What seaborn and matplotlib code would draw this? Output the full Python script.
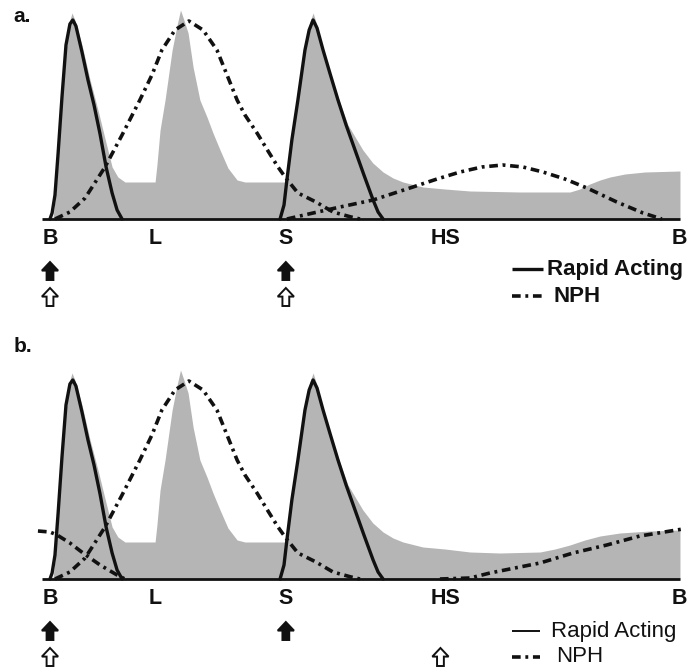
import matplotlib
matplotlib.use("Agg")
import matplotlib.pyplot as plt
from matplotlib.patches import FancyArrow
import seaborn as sns

sns.set_style("white")
plt.rcParams['font.family'] = ['Liberation Sans', 'DejaVu Sans']

# ---------------- data (schematic time units: B=0, L=4, S=9, HS=15, next B=24) -------------
time_labels = ["B", "L", "S", "HS", "B"]
time_pos = [0, 4, 9, 15.1, 24]

# physiological insulin profile (grey area), shared early part
gray_x = [0.11, 0.15, 0.23, 0.38, 0.57, 0.76, 0.84, 0.95, 1.22, 1.53, 1.83, 2.14, 2.37, 2.59, 2.86,
          4.01, 4.08, 4.20, 4.39, 4.66, 4.85, 4.98, 5.11, 5.27, 5.46, 5.72, 5.99, 6.22, 6.49, 6.79,
          7.14, 7.44, 8.97, 9.12, 9.46, 9.73, 9.92, 10.04, 10.15, 10.42, 10.99, 11.37, 11.94, 12.32,
          12.71, 13.09, 13.47, 14.23, 15.07]
gray_y = [0, 5, 14.5, 44.5, 79.5, 99.5, 103, 99.5, 87, 69.5, 54.5, 38, 26, 21, 18.5,
          18.5, 27, 44.5, 59.5, 84.5, 97, 104.5, 99.5, 93, 76, 59.5, 51, 43, 34.5, 25.5,
          19.5, 18.5, 18.5, 27, 59.5, 84.5, 98.5, 103, 98.5, 84.5, 61, 47, 34.5, 28,
          23.5, 20.5, 18.5, 16, 15]
gray_tail_a_x = [16.03, 17.93, 19.84, 20.22, 20.60, 20.99, 21.37, 21.94, 22.70, 24.04]
gray_tail_a_y = [14, 13.5, 13.5, 15, 17.5, 19.5, 21, 22.5, 23.5, 24]
gray_tail_b_x = [16.03, 17.17, 18.70, 19.27, 19.84, 20.41, 20.99, 21.75, 22.89, 24.04]
gray_tail_b_y = [13.5, 13, 13.5, 15, 17, 19.5, 21.5, 23, 24, 24.5]

# rapid acting insulin (breakfast and supper doses)
rapid1_x = [0.00, 0.08, 0.19, 0.31, 0.46, 0.61, 0.76, 0.87, 0.99, 1.22, 1.45, 1.68, 1.91, 2.14, 2.37, 2.56, 2.75]
rapid1_y = [0, 3, 12, 33, 61.5, 87, 97.5, 99.5, 96.5, 83.5, 69.5, 57, 42.5, 26, 13, 4.5, 0]
rapid2_x = [8.78, 8.93, 9.04, 9.23, 9.46, 9.73, 9.89, 10.04, 10.19, 10.42, 10.68, 10.99, 11.30,
            11.64, 11.98, 12.33, 12.52, 12.71]
rapid2_y = [0, 7, 19.5, 39.5, 59.5, 84.5, 94.5, 99.5, 95.5, 84.5, 73, 59.5, 47, 34.5, 22, 9.5, 3.5, 0]

# NPH morning dose
nph_am_x = [0.19, 0.76, 1.34, 2.10, 2.75, 3.43, 3.89, 4.27, 4.77, 5.30, 5.84, 6.37, 6.91, 7.14,
            7.44, 7.90, 8.32, 8.70, 9.00, 9.46, 10.15, 10.80, 11.49, 11.83]
nph_am_y = [0, 3.5, 10.5, 26, 42, 59.5, 72, 84.5, 94.5, 99, 94.5, 84.5, 67, 59.5,
            52, 43, 34, 26, 20.5, 13, 8.5, 3.5, 1, 0]
# NPH supper dose (panel a)
nph_pm_a_x = [9.04, 10.04, 11.07, 12.33, 13.85, 14.77, 15.65, 16.48, 17.28, 18.05, 18.81, 19.65,
              20.49, 21.63, 22.63, 23.35]
nph_pm_a_y = [0, 3, 6, 9.5, 16, 20, 23.5, 26, 27, 26, 23.5, 20, 15.5, 8.5, 3, 0]
# NPH previous bedtime dose tail (panel b)
nph_night_b_x = [-0.46, 0.00, 0.27, 0.76, 1.26, 1.91, 2.56, 2.86]
nph_night_b_y = [24, 23.5, 22, 18, 13, 7, 2, 0]
# NPH bedtime dose (panel b)
nph_hs_b_x = [14.88, 16.03, 16.79, 17.74, 18.70, 19.96, 21.25, 22.51, 24.15]
nph_hs_b_y = [0, 0.5, 3, 5.5, 8, 13, 17, 21.5, 25]

# dose arrows: (time, kind)
doses_a = [(0, "filled"), (9, "filled"), (0, "open"), (9, "open")]
doses_b = [(0, "filled"), (9, "filled"), (0, "open"), (14.9, "open")]

legend_labels = ["Rapid Acting", "NPH"]

# ---------------- drawing -------------
GRAY = "#b5b5b5"
INK = "#111111"
NPH_DASH = (0, (2.4, 1.3, 0.8, 1.3))
XMIN, XMAX = -1.908, 24.385

fig = plt.figure(figsize=(6.89, 6.69), dpi=100)
ax_a = fig.add_axes([0, 339 / 669, 1, 330 / 669])
ax_b = fig.add_axes([0, 0, 1, 339 / 669])
ax_a.set_ylim(-55.5, 109.5)
ax_b.set_ylim(-45, 124.5)


def curve(ax, x, y, dashed):
    sns.lineplot(x=x, y=y, ax=ax, color=INK, lw=2.6 if dashed else 2.4,
                 estimator=None, sort=False)
    ln = ax.lines[-1]
    ln.set_solid_joinstyle("round")
    if dashed:
        ln.set_linestyle(NPH_DASH)
        ln.set_dash_joinstyle("round")


def arrow(ax, x, kind):
    if kind == "filled":
        y0, fc = -30.5, INK
    else:
        y0, fc = -43.5, "white"
    ax.add_patch(FancyArrow(x, y0, 0, 9, width=0.26, head_width=0.62, head_length=4.3,
                            length_includes_head=True, fc=fc, ec=INK, lw=1.4, zorder=5))


def panel(ax, tail_x, tail_y, nph_curves, doses, letter, bold_legend, leg_y, leg_line_end, leg_tx):
    ax.set_xlim(XMIN, XMAX)
    ax.set_axis_off()
    gx = gray_x + tail_x
    gy = gray_y + tail_y
    ax.fill_between(gx, gy, 0, color=GRAY, lw=0, zorder=1)
    ax.plot([-0.31, 24.04], [0, 0], color=INK, lw=2.0, zorder=2, solid_capstyle="butt")
    curve(ax, rapid1_x, rapid1_y, False)
    curve(ax, rapid2_x, rapid2_y, False)
    for cx, cy in nph_curves:
        curve(ax, cx, cy, True)
    for lab, pos in zip(time_labels, time_pos):
        ax.text(pos, -9.5, lab, ha="center", va="center", fontsize=15.5, fontweight="bold", color=INK)
    for x, kind in doses:
        arrow(ax, x, kind)
    ax.text(XMIN + 0.5, ax.get_ylim()[1] - 8, letter, ha="left", va="center", fontsize=15,
            fontweight="bold", color=INK)
    # legend
    weight = "bold" if bold_legend else "normal"
    ax.plot([17.63, leg_line_end], [leg_y[0]] * 2, color=INK, lw=2.4 if bold_legend else 1.4,
            solid_capstyle="butt")
    ax.plot([17.63, leg_line_end], [leg_y[1]] * 2, color=INK, lw=2.6, linestyle=NPH_DASH)
    ax.text(leg_tx[0], leg_y[0], legend_labels[0], ha="left", va="center", fontsize=16,
            fontweight=weight, color=INK)
    ax.text(leg_tx[1], leg_y[1], legend_labels[1], ha="left", va="center", fontsize=16,
            fontweight=weight, color=INK)


panel(ax_a, gray_tail_a_x, gray_tail_a_y,
      [(nph_am_x, nph_am_y), (nph_pm_a_x, nph_pm_a_y)],
      doses_a, "a.", True, (-25, -38.5), 18.81, (18.96, 19.23))
panel(ax_b, gray_tail_b_x, gray_tail_b_y,
      [(nph_night_b_x, nph_night_b_y), (nph_am_x, nph_am_y), (nph_hs_b_x, nph_hs_b_y)],
      doses_b, "b.", False, (-26, -39), 18.70, (19.12, 19.31))

fig.savefig("out.png", dpi=100, facecolor="white")
